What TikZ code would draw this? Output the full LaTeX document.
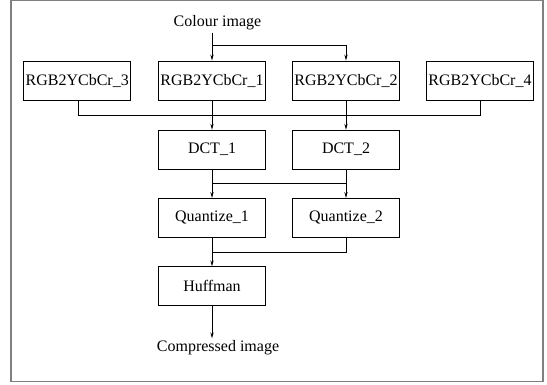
\documentclass[tikz,border=0pt]{standalone}
\usepackage{fontspec}
\setmainfont{Liberation Serif}
\usetikzlibrary{arrows.meta}
\begin{document}
\begin{tikzpicture}[x=1pt,y=-1pt,
  blk/.style={draw,line width=0.8pt,minimum width=107pt,minimum height=39pt,inner sep=0pt,font=\fontsize{16}{18}\selectfont},
  lbl/.style={inner sep=2pt,font=\fontsize{16}{18}\selectfont},
  conn/.style={line width=0.8pt},
  arr/.style={conn,-{Stealth[length=6pt,width=3.2pt]}}]
\useasboundingbox (0,0) rectangle (547,385);
\draw[line width=1.2pt,gray] (11,0.8) rectangle (543,381.5);
% row 1
\node[blk] (r3) at (77.2,80.5) {RGB2YCbCr\_3};
\node[blk] (r1) at (212,80.5) {RGB2YCbCr\_1};
\node[blk] (r2) at (346,80.5) {RGB2YCbCr\_2};
\node[blk] (r4) at (480,80.5) {RGB2YCbCr\_4};
% row 2
\node[blk] (d1) at (212,149.7) {DCT\_1};
\node[blk] (d2) at (346,149.7) {DCT\_2};
% row 3
\node[blk] (q1) at (212,218) {Quantize\_1};
\node[blk] (q2) at (346,218) {Quantize\_2};
% row 4
\node[blk] (hf) at (212,286.3) {Huffman};
% labels
\node[lbl,anchor=base] (ci) at (217.5,27) {Colour image};
\node[lbl,anchor=base] (co) at (218,351.7) {Compressed image};
% coordinates
\coordinate (b1) at (212,45.7);
\coordinate (b2) at (346,45.7);
\coordinate (h3) at (78,115);
\coordinate (h4) at (480,115);
\coordinate (c1) at (212,183.3);
\coordinate (c2) at (346,183.3);
\coordinate (e1) at (212,252.3);
\coordinate (e2) at (346,252.3);
% connectors
\draw[arr] (ci.south -| r1) -- (r1.north);
\draw[arr] (b1) -- (b2) -- (r2.north);
\draw[conn] (r3.south -| h3) -- (h3) -- (h4) -- (r4.south -| h4);
\draw[arr] (r1.south) -- (d1.north);
\draw[arr] (r2.south) -- (d2.north);
\draw[arr] (d1.south) -- (q1.north);
\draw[arr] (d2.south) -- (q2.north);
\draw[conn] (c1) -- (c2);
\draw[arr] (q1.south) -- (hf.north);
\draw[conn] (q2.south) -- (e2) -- (e1);
\draw[arr] (hf.south) -- (co.north -| hf);
\end{tikzpicture}
\end{document}
